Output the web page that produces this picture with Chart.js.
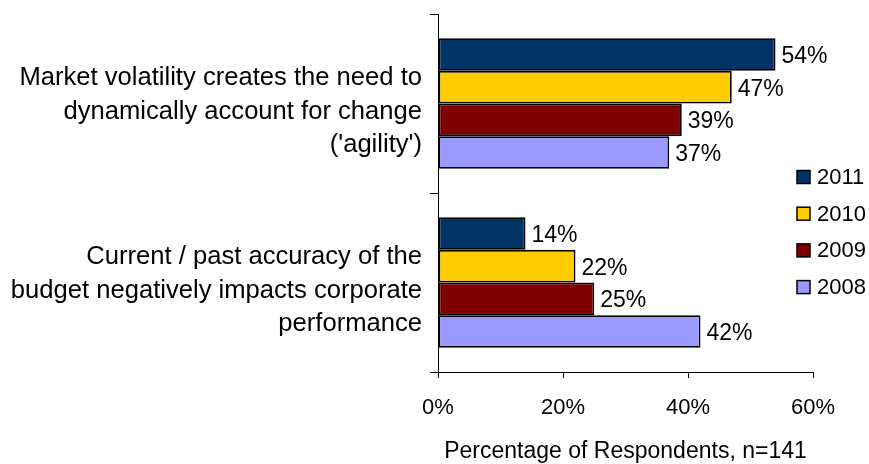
<!DOCTYPE html>
<html>
<head>
<meta charset="utf-8">
<script src="https://cdn.jsdelivr.net/npm/chart.js@4"></script>
<style>
  html, body { margin: 0; padding: 0; background: #fff; }
  #wrap { width: 869px; height: 464px; }
</style>
</head>
<body>
<div id="wrap"><canvas id="budgetChart" width="869" height="464"></canvas></div>
<script>
let categories = [
    ["Market volatility creates the need to", "dynamically account for change", "('agility')"],
    ["Current / past accuracy of the", "budget negatively impacts corporate", "performance"]
];

let seriesNames = ["2011", "2010", "2009", "2008"];

let values2011 = [54, 14];
let values2010 = [47, 22];
let values2009 = [39, 25];
let values2008 = [37, 42];

let seriesColors = [
    "#003366",  // 2011
    "#FFCC00",  // 2010
    "#800000",  // 2009
    "#9999FF"   // 2008
];

let xTicks = [0, 20, 40, 60];

const fontFamily = "'Liberation Sans', Arial, sans-serif";
const seriesValues = [values2011, values2010, values2009, values2008];

// value labels at the end of each bar
const valueLabels = {
    id: "valueLabels",
    afterDatasetsDraw(chart) {
        const ctx = chart.ctx;
        ctx.save();
        ctx.font = "23px " + fontFamily;
        ctx.fillStyle = "#000";
        ctx.textBaseline = "middle";
        ctx.textAlign = "left";
        chart.data.datasets.forEach((ds, i) => {
            chart.getDatasetMeta(i).data.forEach((bar, j) => {
                ctx.fillText(ds.data[j] + "%", bar.x + 6, bar.y + 2);
            });
        });
        ctx.restore();
    }
};

// legend sits partly over the plot's right side, so draw it by hand
const sideLegend = {
    id: "sideLegend",
    afterDraw(chart) {
        const ctx = chart.ctx;
        ctx.save();
        ctx.font = "22px " + fontFamily;
        ctx.textBaseline = "middle";
        seriesNames.forEach((name, i) => {
            const cy = 177 + i * 36.7;
            ctx.fillStyle = seriesColors[i];
            ctx.fillRect(797, cy - 6.5, 13, 13);
            ctx.strokeStyle = "#000";
            ctx.lineWidth = 1.5;
            ctx.strokeRect(797, cy - 6.5, 13, 13);
            ctx.fillStyle = "#000";
            ctx.fillText(name, 817, cy + 1);
        });
        ctx.restore();
    }
};

new Chart(document.getElementById("budgetChart"), {
    type: "bar",
    data: {
        labels: categories,
        datasets: seriesNames.map((name, i) => ({
            label: name,
            data: seriesValues[i],
            backgroundColor: seriesColors[i],
            borderColor: "#000",
            borderWidth: 1.8,
            borderSkipped: false,
            categoryPercentage: 0.73,
            barPercentage: 1
        }))
    },
    options: {
        indexAxis: "y",
        responsive: false,
        animation: false,
        layout: {
            padding: { left: 0, right: 56, top: 14, bottom: 0 }
        },
        plugins: {
            legend: { display: false },
            tooltip: { enabled: false }
        },
        scales: {
            x: {
                min: 0,
                max: 60,
                afterBuildTicks(scale) {
                    scale.ticks = xTicks.map(v => ({ value: v }));
                },
                afterFit(scale) {
                    scale.height = 92;
                },
                ticks: {
                    color: "#000",
                    padding: 17,
                    font: { family: fontFamily, size: 22 },
                    callback: v => v + "%"
                },
                grid: {
                    drawOnChartArea: false,
                    drawTicks: true,
                    tickLength: 6,
                    color: "#000"
                },
                border: { color: "#000", width: 1 },
                title: {
                    display: true,
                    text: "Percentage of Respondents, n=141",
                    color: "#000",
                    font: { family: fontFamily, size: 23 },
                    padding: { top: 4, bottom: -1 }
                }
            },
            y: {
                afterFit(scale) {
                    scale.width = 438;
                    scale.paddingTop = 0;
                    scale.paddingBottom = 0;
                },
                ticks: {
                    color: "#000",
                    padding: 8,
                    labelOffset: 8,
                    font: { family: fontFamily, size: 25.6, lineHeight: 1.3 }
                },
                grid: {
                    offset: true,
                    drawOnChartArea: false,
                    drawTicks: true,
                    tickLength: 8,
                    color: "#000"
                },
                border: { color: "#000", width: 1 }
            }
        }
    },
    plugins: [valueLabels, sideLegend]
});
</script>
</body>
</html>
